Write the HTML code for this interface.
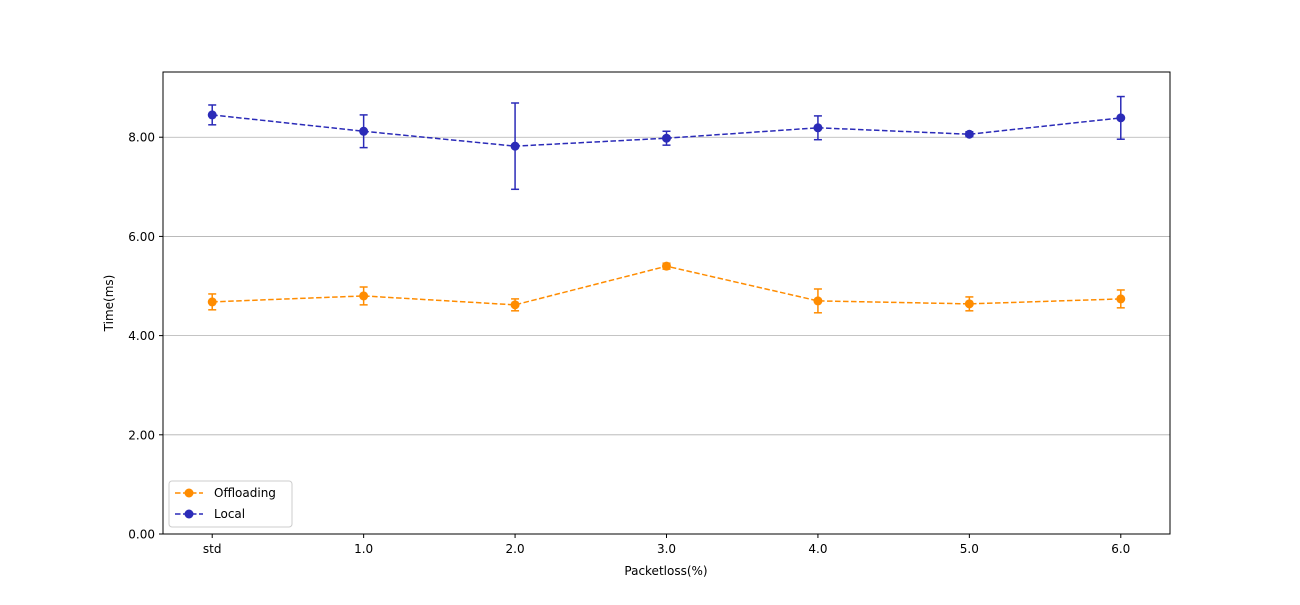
<!DOCTYPE html>
<html><head><meta charset="utf-8"><style>
body{margin:0;background:#fff;}
svg text{font-family:"DejaVu Sans","Liberation Sans",sans-serif;font-size:12px;fill:#000;}
</style></head><body>
<svg id="chart" width="1300" height="600">
<rect width="1300" height="600" fill="#fff"/>
<g id="grid"></g>
<g id="series"></g>
<rect x="163" y="72" width="1007" height="462" fill="none" stroke="#000" stroke-width="1"/>
<g id="axes"></g>
<text x="666" y="575" text-anchor="middle">Packetloss(%)</text>
<text x="113" y="303" text-anchor="middle" transform="rotate(-90 113 303)">Time(ms)</text>
<g>
<rect x="169" y="481" width="123" height="46" rx="3" fill="#fff" stroke="#ccc"/>
<g>
<line x1="175" y1="493" x2="203" y2="493" stroke="#ff8c00" stroke-width="1.5" stroke-dasharray="5.5,2.5"/>
<circle cx="189" cy="493" r="4.5" fill="#ff8c00"/>
<text x="214" y="497">Offloading</text></g>
<g>
<line x1="175" y1="514" x2="203" y2="514" stroke="#2b2bb8" stroke-width="1.5" stroke-dasharray="5.5,2.5"/>
<circle cx="189" cy="514" r="4.5" fill="#2b2bb8"/>
<text x="214" y="518">Local</text></g>
</g>
</svg>
<script>
const categories=["std","1.0","2.0","3.0","4.0","5.0","6.0"];
const offloading=[4.68,4.80,4.62,5.40,4.70,4.64,4.74];
const offloadingErr=[0.16,0.18,0.12,0.06,0.24,0.14,0.18];
const local=[8.45,8.12,7.82,7.98,8.19,8.06,8.39];
const localErr=[0.20,0.33,0.87,0.14,0.24,0.05,0.43];
const yTicks=[0,2,4,6,8];
const yTickLabels=["0.00","2.00","4.00","6.00","8.00"];

const NS="http://www.w3.org/2000/svg";
const L=163,R=1170,T=72,B=534,yMax=9.315,xMin=-0.325,xMax=6.325;
const xs=i=>L+(i-xMin)/(xMax-xMin)*(R-L);
const ys=v=>B-v/yMax*(B-T);
function mk(tag,attrs,parent){const e=document.createElementNS(NS,tag);for(const k in attrs)e.setAttribute(k,attrs[k]);parent.appendChild(e);return e;}
const grid=document.getElementById('grid'),axes=document.getElementById('axes'),ser=document.getElementById('series');
yTicks.forEach((v,i)=>{
  const y=ys(v);
  if(v>0){const g=mk('line',{x1:L,x2:R,y1:y,y2:y,stroke:'#b0b0b0','stroke-width':0.8},grid);
  
  }
  mk('line',{x1:L-4,x2:L,y1:y,y2:y,stroke:'#000'},axes);
  const t=mk('text',{x:L-8,y:y+4.5,'text-anchor':'end'},axes);t.textContent=yTickLabels[i];
  
  
});
categories.forEach((c,i)=>{
  const x=xs(i);
  mk('line',{x1:x,x2:x,y1:B,y2:B+4,stroke:'#000'},axes);
  const t=mk('text',{x:x,y:B+19,'text-anchor':'middle'},axes);t.textContent=c;
  
  
});
function drawSeries(vals,errs,color,name){
  const g=mk('g',{},ser);
  
  
  const p=mk('polyline',{points:vals.map((v,i)=>xs(i)+','+ys(v)).join(' '),fill:'none',stroke:color,'stroke-width':1.5,'stroke-dasharray':'5.5,2.5'},g);
  
  
  vals.forEach((v,i)=>{
    const x=xs(i),y1=ys(v+errs[i]),y2=ys(v-errs[i]);
    const eb=mk('g',{stroke:color,'stroke-width':1.5},g);
    
    
    mk('line',{x1:x,x2:x,y1:y1,y2:y2},eb);
    mk('line',{x1:x-4,x2:x+4,y1:y1,y2:y1},eb);
    mk('line',{x1:x-4,x2:x+4,y1:y2,y2:y2},eb);
    const c=mk('circle',{cx:x,cy:ys(v),r:4.5,fill:color},g);
    
    
  });
}
drawSeries(offloading,offloadingErr,'#ff8c00','offloading');
drawSeries(local,localErr,'#2b2bb8','local');
</script>
</body></html>
